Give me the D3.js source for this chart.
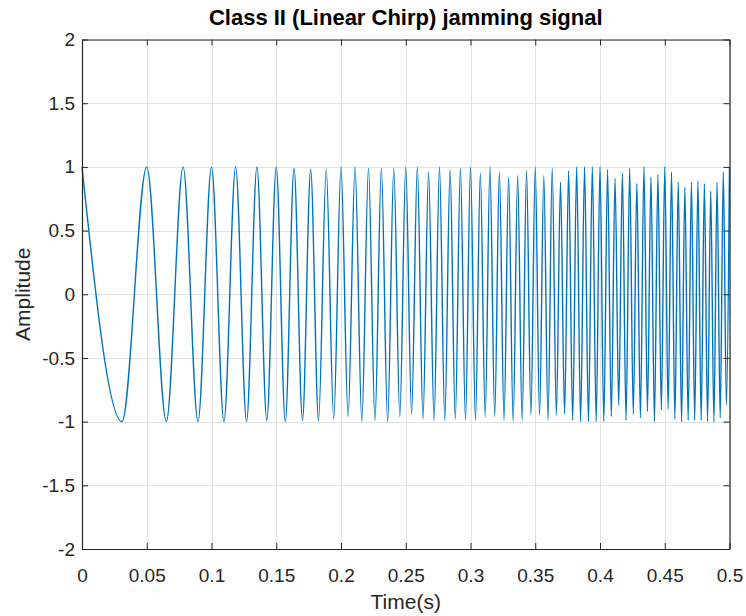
<!DOCTYPE html>
<html>
<head>
<meta charset="utf-8">
<script src="https://cdn.jsdelivr.net/npm/d3@7"></script>
<style>
  body { margin: 0; background: #ffffff; }
  svg { display: block; }
  text { font-family: Arial, "Liberation Sans", Helvetica, sans-serif; }
</style>
</head>
<body>
<svg id="chart" width="746" height="616"></svg>
<script>
// Text
const chartTitle = "Class II (Linear Chirp) jamming signal";
const xLabel = "Time(s)";
const yLabel = "Amplitude";

// Axis ticks
const xTicks = [0, 0.05, 0.1, 0.15, 0.2, 0.25, 0.3, 0.35, 0.4, 0.45, 0.5];
const xTickLabels = ["0", "0.05", "0.1", "0.15", "0.2", "0.25", "0.3", "0.35", "0.4", "0.45", "0.5"];
const yTicks = [-2, -1.5, -1, -0.5, 0, 0.5, 1, 1.5, 2];
const yTickLabels = ["-2", "-1.5", "-1", "-0.5", "0", "0.5", "1", "1.5", "2"];

// Successive crests and troughs of the chirp waveform (time in s, amplitude)
const extremaTime = [
  0, 0.0309, 0.05, 0.06514, 0.07808, 0.08956, 0.1, 0.10963, 0.11861, 0.12707,
  0.13508, 0.14271, 0.15, 0.157, 0.16375, 0.17026, 0.17656, 0.18267, 0.1886, 0.19438,
  0.2, 0.20549, 0.21085, 0.21609, 0.22122, 0.22625, 0.23117, 0.23601, 0.24075, 0.24542,
  0.25, 0.25451, 0.25894, 0.26331, 0.26762, 0.27186, 0.27604, 0.28016, 0.28423, 0.28825,
  0.29221, 0.29613, 0.3, 0.30382, 0.3076, 0.31134, 0.31504, 0.31869, 0.32231, 0.32589,
  0.32944, 0.33294, 0.33642, 0.33986, 0.34327, 0.34665, 0.35, 0.35332, 0.35661, 0.35987,
  0.3631, 0.36631, 0.36949, 0.37265, 0.37578, 0.37889, 0.38197, 0.38503, 0.38807, 0.39108,
  0.39408, 0.39705, 0.4, 0.40293, 0.40584, 0.40873, 0.41161, 0.41446, 0.41729, 0.42011,
  0.42291, 0.42569, 0.42846, 0.43121, 0.43394, 0.43665, 0.43935, 0.44204, 0.44471, 0.44736,
  0.45, 0.45262, 0.45523, 0.45783, 0.46041, 0.46298, 0.46553, 0.46808, 0.4706, 0.47312,
  0.47562, 0.47812, 0.48059, 0.48306, 0.48551, 0.48796, 0.49039, 0.49281, 0.49522, 0.49761,
  0.5
];
const extremaAmplitude = [
  1, -1, 1, -1, 1, -1, 1, -1, 1, -1,
  1, -0.99, 1, -1, 0.99, -0.99, 0.98, -0.99, 0.98, -0.98,
  1, -0.96, 1, -1, 0.99, -0.99, 0.99, -1, 0.99, -0.96,
  1, -0.94, 1, -0.98, 0.96, -0.99, 1, -0.99, 0.98, -0.98,
  0.99, -0.99, 1, -0.99, 0.95, -0.96, 1, -0.96, 0.96, -0.99,
  0.92, -1, 0.93, -0.99, 0.97, -0.95, 1, -0.95, 0.93, -0.99,
  0.99, -0.95, 0.88, -0.94, 0.97, -0.99, 1, -1, 1, -1,
  1, -1, 1, -1, 0.98, -0.96, 0.91, -0.87, 0.95, -0.99,
  0.99, -0.94, 0.87, -0.97, 1, -0.92, 0.92, -1, 0.94, -0.91,
  1, -0.9, 0.96, -0.98, 0.88, -1, 0.84, -0.99, 0.88, -0.99,
  0.89, -0.99, 0.87, -1, 0.81, -1, 0.88, -0.97, 0.96, -0.87,
  1
];

const width = 746, height = 616;
const plot = { left: 82, right: 729.5, top: 39.5, bottom: 549 };
const ink = "#262626";
const gridColor = "#e2e2e2";
const lineColor = "#0072BD";
const tickLen = 6;
const fontStack = 'Arial, "Liberation Sans", Helvetica, sans-serif';

const svg = d3.select("#chart");
svg.append("rect").attr("width", width).attr("height", height).attr("fill", "#ffffff");

const x = d3.scaleLinear().domain([0, 0.5]).range([plot.left, plot.right]);
const y = d3.scaleLinear().domain([-2, 2]).range([plot.bottom, plot.top]);

// Grid
const grid = svg.append("g").attr("class", "grid").attr("stroke", gridColor).attr("stroke-width", 1);
grid.selectAll("line.gx").data(xTicks).join("line").attr("class", "gx")
  .attr("x1", d => Math.round(x(d)) + 0.5).attr("x2", d => Math.round(x(d)) + 0.5)
  .attr("y1", plot.top).attr("y2", plot.bottom);
grid.selectAll("line.gy").data(yTicks).join("line").attr("class", "gy")
  .attr("y1", d => Math.round(y(d)) + 0.5).attr("y2", d => Math.round(y(d)) + 0.5)
  .attr("x1", plot.left).attr("x2", plot.right);

// Signal
const series = extremaTime.map((t, i) => ({ t, a: extremaAmplitude[i] }));
const line = d3.line().x(d => x(d.t)).y(d => y(d.a)).curve(d3.curveMonotoneX);
svg.append("path").datum(series)
  .attr("d", line)
  .attr("fill", "none")
  .attr("stroke", lineColor)
  .attr("stroke-width", 1.4)
  .attr("stroke-linejoin", "round");

// Axes (box with inward ticks on all four sides)
const fmtX = d => xTickLabels[xTicks.indexOf(d)];
const fmtY = d => yTickLabels[yTicks.indexOf(d)];

const axB = svg.append("g").attr("transform", `translate(0,${plot.bottom})`)
  .call(d3.axisBottom(x).tickValues(xTicks).tickFormat(fmtX).tickSizeInner(-tickLen).tickSizeOuter(0).tickPadding(20));
const axT = svg.append("g").attr("transform", `translate(0,${plot.top})`)
  .call(d3.axisTop(x).tickValues(xTicks).tickFormat("").tickSizeInner(-tickLen).tickSizeOuter(0));
const axL = svg.append("g").attr("transform", `translate(${plot.left},0)`)
  .call(d3.axisLeft(y).tickValues(yTicks).tickFormat(fmtY).tickSizeInner(-tickLen).tickSizeOuter(0).tickPadding(7));
const axR = svg.append("g").attr("transform", `translate(${plot.right},0)`)
  .call(d3.axisRight(y).tickValues(yTicks).tickFormat("").tickSizeInner(-tickLen).tickSizeOuter(0));

[axB, axT, axL, axR].forEach(g => {
  g.select(".domain").attr("stroke", ink).attr("stroke-width", 1.2);
  g.selectAll(".tick line").attr("stroke", ink).attr("stroke-width", 1);
  g.selectAll(".tick text").attr("fill", ink).attr("font-size", 19).attr("font-family", fontStack);
});

// Title and axis labels
svg.append("text").attr("x", (plot.left + plot.right) / 2).attr("y", 25)
  .attr("text-anchor", "middle").attr("font-size", 22).attr("font-weight", "bold")
  .attr("fill", "#000000").text(chartTitle);
svg.append("text").attr("x", (plot.left + plot.right) / 2).attr("y", 609)
  .attr("text-anchor", "middle").attr("font-size", 21).attr("fill", ink).text(xLabel);
svg.append("text").attr("transform", `translate(30,${(plot.top + plot.bottom) / 2}) rotate(-90)`)
  .attr("text-anchor", "middle").attr("font-size", 21).attr("fill", ink).text(yLabel);
</script>
</body>
</html>
